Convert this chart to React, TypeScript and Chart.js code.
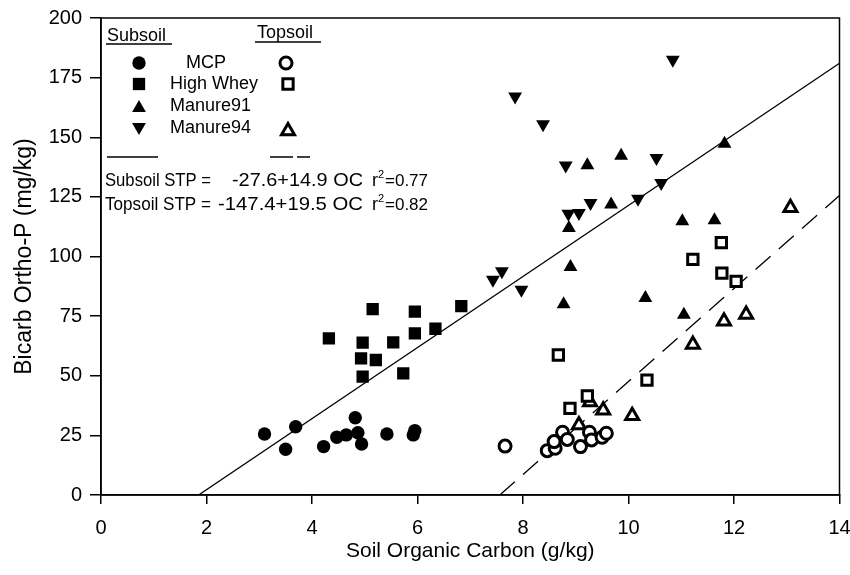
import React, { useEffect, useRef } from 'react';
import { Chart, registerables } from 'chart.js';

Chart.register(...registerables);

// Subsoil series
const mcpX = [3.10, 3.50, 3.69, 4.22, 4.47, 4.65, 4.82, 4.87, 4.94, 5.42, 5.92, 5.95];
const mcpY = [25.6, 19.2, 28.6, 20.3, 24.2, 25.2, 32.4, 26.1, 21.4, 25.6, 25.2, 27.0];

const wheyX = [4.32, 5.15, 4.96, 4.93, 5.21, 4.96, 5.54, 5.73, 5.95, 5.95, 6.34, 6.83];
const wheyY = [65.7, 77.9, 63.9, 57.3, 56.6, 49.6, 64.0, 51.0, 76.9, 67.8, 69.7, 79.2];

const m91X = [8.87, 8.90, 8.77, 9.22, 9.86, 9.67, 10.32, 11.05, 11.02, 11.63, 11.82];
const m91Y = [112.0, 95.6, 80.0, 138.3, 142.2, 121.8, 82.6, 75.6, 114.8, 115.2, 147.3];

const m94X = [7.43, 7.60, 7.97, 7.85, 8.38, 8.81, 8.86, 9.06, 9.28, 10.18, 10.53, 10.62, 10.84];
const m94Y = [90.2, 93.8, 86.1, 167.1, 155.5, 138.2, 117.9, 118.2, 122.4, 124.2, 141.3, 130.8, 182.5];

// Topsoil series
const topMcpX = [7.66, 8.46, 8.61, 8.59, 8.75, 8.84, 9.09, 9.26, 9.30, 9.50, 9.58];
const topMcpY = [20.5, 18.6, 19.6, 22.4, 26.3, 23.3, 20.3, 26.3, 23.1, 24.2, 25.9];

const topWheyX = [8.67, 8.89, 9.22, 10.35, 11.22, 11.76, 11.77, 12.04];
const topWheyY = [58.7, 36.3, 41.5, 48.2, 98.8, 105.8, 93.0, 89.6];

const topM94X = [9.06, 9.27, 9.52, 10.07, 11.22, 11.81, 12.23, 13.07];
const topM94Y = [29.3, 39.0, 35.5, 33.2, 63.1, 72.9, 75.7, 120.4];

// Regression line end points
const subLineX = [1.85, 14];
const subLineY = [0, 181.0];
const topLineX = [7.56, 14];
const topLineY = [0, 125.6];

const xTicks = [0, 2, 4, 6, 8, 10, 12, 14];
const yTicks = [0, 25, 50, 75, 100, 125, 150, 175, 200];

const FONT = "'Liberation Sans', Arial, Helvetica, sans-serif";

const pts = (xs: number[], ys: number[]) => xs.map((x, i) => ({ x, y: ys[i] }));

const legendPlugin = {
  id: 'customLegend',
  afterDraw(chart: any) {
    const ctx = chart.ctx as CanvasRenderingContext2D;
    const ca = chart.chartArea;
    ctx.save();
    // frame
    ctx.strokeStyle = '#000';
    ctx.lineWidth = 1.5;
    ctx.strokeRect(ca.left, ca.top, ca.right - ca.left, ca.bottom - ca.top);

    ctx.fillStyle = '#000';
    ctx.textBaseline = 'alphabetic';
    ctx.textAlign = 'left';
    ctx.font = `18px ${FONT}`;
    ctx.fillText('Subsoil', 107, 41);
    ctx.fillText('Topsoil', 257, 38);
    ctx.lineWidth = 1.5;
    ctx.beginPath();
    ctx.moveTo(106, 44); ctx.lineTo(172, 44);
    ctx.moveTo(255, 42); ctx.lineTo(321, 42);
    ctx.stroke();

    const circle = (x: number, y: number, r: number, open: boolean) => {
      ctx.beginPath();
      ctx.arc(x, y, r, 0, Math.PI * 2);
      if (open) { ctx.fillStyle = '#fff'; ctx.fill(); ctx.lineWidth = 3; ctx.stroke(); }
      else { ctx.fillStyle = '#000'; ctx.fill(); }
    };
    const square = (x: number, y: number, s: number, open: boolean) => {
      ctx.beginPath();
      ctx.rect(x - s / 2, y - s / 2, s, s);
      if (open) { ctx.fillStyle = '#fff'; ctx.fill(); ctx.lineWidth = 3; ctx.stroke(); }
      else { ctx.fillStyle = '#000'; ctx.fill(); }
    };
    const tri = (x: number, y: number, r: number, down: boolean, open: boolean) => {
      const d = down ? -1 : 1;
      ctx.beginPath();
      ctx.moveTo(x, y - d * r);
      ctx.lineTo(x + r * Math.sqrt(3) / 2, y + d * r / 2);
      ctx.lineTo(x - r * Math.sqrt(3) / 2, y + d * r / 2);
      ctx.closePath();
      if (open) { ctx.fillStyle = '#fff'; ctx.fill(); ctx.lineWidth = 3; ctx.lineJoin = 'miter'; ctx.stroke(); }
      else { ctx.fillStyle = '#000'; ctx.fill(); }
    };

    circle(139, 63, 6.7, false);
    circle(286, 63, 6, true);
    square(139, 84, 12.3, false);
    square(288, 84, 10.3, true);
    tri(139, 108, 8, false, false);
    tri(139, 127, 8, true, false);
    tri(288, 131, 7.5, false, true);

    ctx.fillStyle = '#000';
    ctx.textBaseline = 'middle';
    ctx.font = `18px ${FONT}`;
    ctx.fillText('MCP', 186, 63);
    ctx.fillText('High Whey', 170, 84);
    ctx.fillText('Manure91', 170, 106);
    ctx.fillText('Manure94', 170, 128);

    ctx.strokeStyle = '#000';
    ctx.lineWidth = 1.3;
    ctx.beginPath();
    ctx.moveTo(107, 157); ctx.lineTo(158, 157);
    ctx.moveTo(270, 157); ctx.lineTo(293, 157);
    ctx.moveTo(297, 157); ctx.lineTo(310, 157);
    ctx.stroke();

    // text drawn to span [x0, x1] horizontally
    const span = (t: string, x0: number, x1: number, y: number) => {
      const w = ctx.measureText(t).width;
      ctx.save();
      ctx.translate(x0, y);
      ctx.scale((x1 - x0) / w, 1);
      ctx.fillText(t, 0, 0);
      ctx.restore();
    };
    const eq = (y: number, a: string, b: string, bx: number, r2: string) => {
      ctx.font = `18px ${FONT}`;
      ctx.textBaseline = 'middle';
      ctx.textAlign = 'left';
      span(a, 105, 211, y);
      span(b, bx, 363, y);
      ctx.fillText('r', 372, y);
      ctx.font = `11px ${FONT}`;
      ctx.fillText('2', 378, y - 6);
      ctx.font = `17px ${FONT}`;
      ctx.fillText(r2, 385, y);
    };
    eq(181, 'Subsoil STP =', '-27.6+14.9 OC', 232, '=0.77');
    eq(205, 'Topsoil STP =', '-147.4+19.5 OC', 218, '=0.82');
    ctx.restore();
  },
};

export default function App() {
  const ref = useRef<HTMLCanvasElement | null>(null);
  useEffect(() => {
    if (!ref.current) return;
    const filled = (data: any, style: string, radius: number, rotation = 0) => ({
      type: 'scatter',
      data,
      pointStyle: style,
      pointRadius: radius,
      pointHoverRadius: radius,
      pointRotation: rotation,
      backgroundColor: '#000',
      borderColor: '#000',
      borderWidth: 0,
      showLine: false,
    });
    const open = (data: any, style: string, radius: number) => ({
      type: 'scatter',
      data,
      pointStyle: style,
      pointRadius: radius,
      pointHoverRadius: radius,
      backgroundColor: '#fff',
      borderColor: '#000',
      borderWidth: 3,
      showLine: false,
    });
    const chart = new Chart(ref.current, {
      type: 'scatter',
      data: {
        datasets: [
          open(pts(topMcpX, topMcpY), 'circle', 6),
          open(pts(topWheyX, topWheyY), 'rect', 7.3),
          open(pts(topM94X, topM94Y), 'triangle', 7.5),
          filled(pts(mcpX, mcpY), 'circle', 6.7),
          filled(pts(wheyX, wheyY), 'rect', 8.7),
          filled(pts(m91X, m91Y), 'triangle', 8),
          filled(pts(m94X, m94Y), 'triangle', 8, 180),
          {
            type: 'line',
            data: pts(subLineX, subLineY),
            borderColor: '#000',
            borderWidth: 1.3,
            pointRadius: 0,
            fill: false,
            tension: 0,
          },
          {
            type: 'line',
            data: pts(topLineX, topLineY),
            borderColor: '#000',
            borderWidth: 1.3,
            borderDash: [20, 11],
            pointRadius: 0,
            fill: false,
            tension: 0,
          },
        ] as any,
      },
      options: {
        animation: false,
        responsive: false,
        events: [],
        layout: { padding: { left: 0, top: 18, right: 9, bottom: 0 } },
        plugins: { legend: { display: false }, tooltip: { enabled: false } },
        scales: {
          x: {
            type: 'linear',
            min: 0,
            max: 14,
            afterFit: (s: any) => { s.height = 80; s.paddingRight = 0; s.paddingLeft = 0; },
            afterBuildTicks: (s: any) => { s.ticks = xTicks.map((v) => ({ value: v })); },
            ticks: { color: '#000', font: { family: FONT, size: 20 }, padding: 12, maxRotation: 0 },
            grid: { display: true, drawOnChartArea: false, drawTicks: true, tickLength: 9, color: '#000', lineWidth: 1.5 },
            border: { display: true, color: '#000', width: 1.5 },
            title: { display: true, text: 'Soil Organic Carbon (g/kg)', color: '#000', font: { family: FONT, size: 21 }, padding: { top: 0, bottom: 11 } },
          },
          y: {
            type: 'linear',
            min: 0,
            max: 200,
            afterFit: (s: any) => { s.width = 101; s.paddingTop = 0; s.paddingBottom = 0; },
            afterBuildTicks: (s: any) => { s.ticks = yTicks.map((v) => ({ value: v })); },
            ticks: { color: '#000', font: { family: FONT, size: 20 }, padding: 8 },
            grid: { display: true, drawOnChartArea: false, drawTicks: true, tickLength: 11, color: '#000', lineWidth: 1.5 },
            border: { display: true, color: '#000', width: 1.5 },
            title: { display: true, text: 'Bicarb Ortho-P (mg/kg)', color: '#000', font: { family: FONT, size: 23 }, padding: { top: 11, bottom: 0 } },
          },
        },
      } as any,
      plugins: [legendPlugin],
    });
    return () => chart.destroy();
  }, []);
  return (
    <div style={{ position: 'fixed', left: 0, top: 0, width: 850, height: 575, background: '#fff' }}>
      <canvas ref={ref} width={850} height={575} />
    </div>
  );
}
